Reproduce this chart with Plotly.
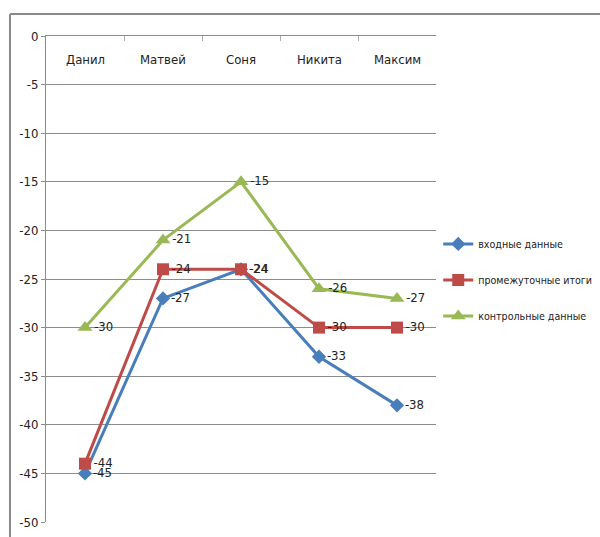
import plotly.graph_objects as go

# Pupils and their scores at the three checkpoints
names = ["Данил", "Матвей", "Соня", "Никита", "Максим"]
input_scores = [-45, -27, -24, -33, -38]
interim_scores = [-44, -24, -24, -30, -30]
control_scores = [-30, -21, -15, -26, -27]

series_names = ["входные данные", "промежуточные итоги", "контрольные данные"]
colors = ["#4A7EBB", "#BE4B48", "#98B954"]
symbols = ["diamond", "square", "triangle-up"]
sizes = [11, 12, 13]

y_ticks = [0, -5, -10, -15, -20, -25, -30, -35, -40, -45, -50]

FONT = "Liberation Sans Narrow, DejaVu Sans Condensed, Roboto Condensed, Roboto, sans-serif"
GRID = "#8c8c8c"

fig = go.Figure()
for i, vals in enumerate([input_scores, interim_scores, control_scores]):
    fig.add_trace(go.Scatter(
        x=names, y=vals, name=series_names[i],
        mode="lines+markers+text",
        line=dict(color=colors[i], width=3),
        marker=dict(symbol=symbols[i], size=sizes[i], color=colors[i]),
        text=[str(v) for v in vals],
        textposition="middle right",
        textfont=dict(family=FONT, size=13, color="#222222"),
        legendgroup=f"g{i}",
        cliponaxis=False,
    ))

# Category names sit just under the zero line, inside the plot area
for n in names:
    fig.add_annotation(x=n, y=0.951, xref="x", yref="paper", text=n,
                       showarrow=False, yanchor="middle",
                       font=dict(family=FONT, size=13, color="#222222"))

fig.update_layout(
    width=600, height=537,
    margin=dict(l=46, r=0, t=36, b=15),
    paper_bgcolor="white", plot_bgcolor="white",
    font=dict(family=FONT, size=13, color="#222222"),
    showlegend=True,
    legend=dict(x=0.708, xanchor="left", y=0.498, yanchor="middle",
                font=dict(family=FONT, size=10.6, color="#222222"),
                tracegroupgap=17, bgcolor="rgba(0,0,0,0)",
                itemwidth=30),
    xaxis=dict(domain=[0, 0.704], side="top", type="category",
               range=[-0.5, 4.5],
               showticklabels=False, ticks="inside", ticklen=5,
               tickson="boundaries", tickcolor="#aaaaaa",
               showgrid=False, showline=True, linecolor=GRID, linewidth=1,
               zeroline=False),
    yaxis=dict(range=[-50, 0], tickvals=y_ticks,
               ticktext=[str(v) for v in y_ticks],
               showgrid=True, gridcolor=GRID, gridwidth=1,
               showline=True, linecolor=GRID, linewidth=1,
               ticks="outside", ticklen=4, tickcolor=GRID,
               zeroline=False,
               tickfont=dict(family=FONT, size=13, color="#222222")),
    shapes=[
        dict(type="line", xref="paper", yref="paper",
             x0=-0.065, x1=-0.065, y0=1.0453, y1=-0.1,
             line=dict(color="#8a8a8a", width=2)),
        dict(type="line", xref="paper", yref="paper",
             x0=-0.065, x1=1.1, y0=1.0453, y1=1.0453,
             line=dict(color="#8a8a8a", width=2)),
    ],
)

fig.write_html("out.html")
